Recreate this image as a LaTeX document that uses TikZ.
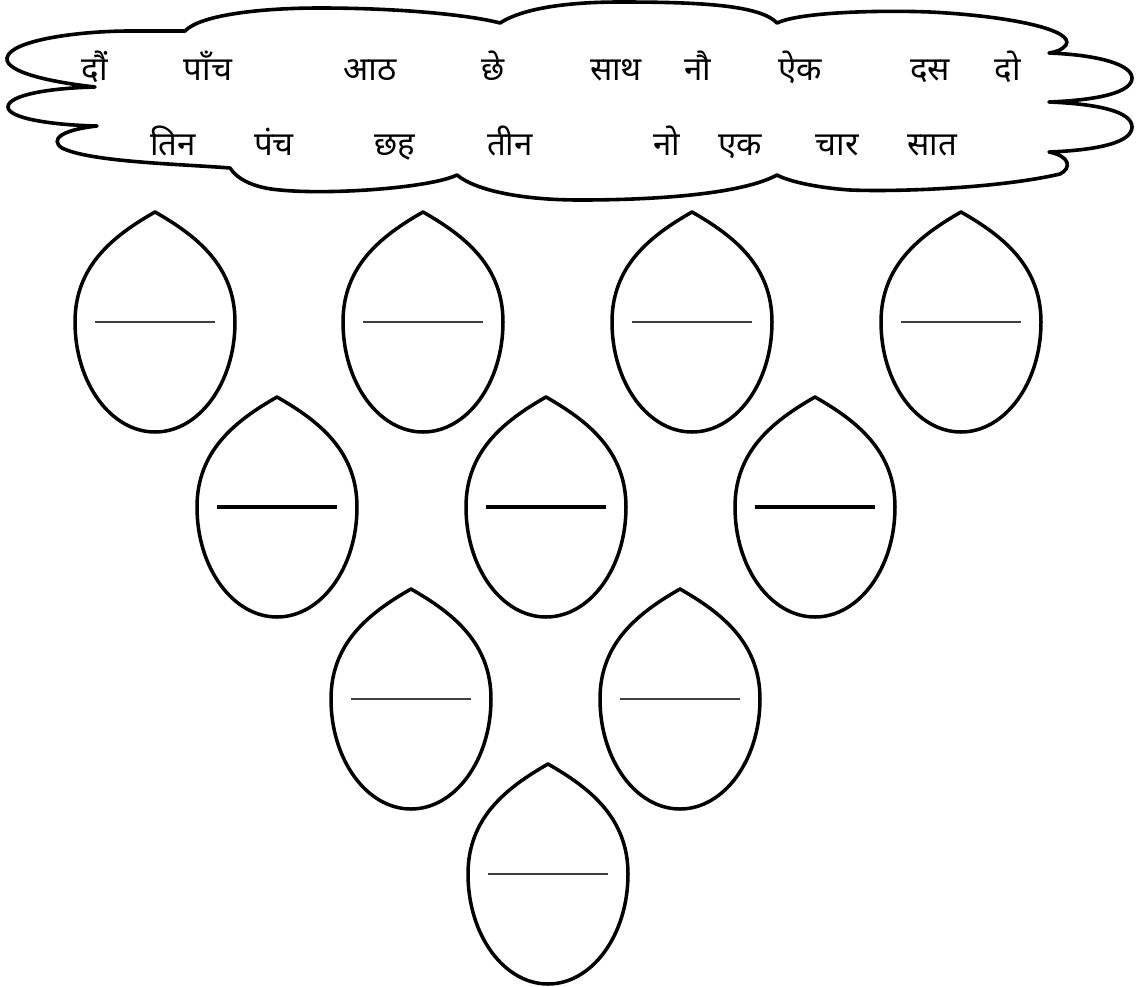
\documentclass[tikz,border=0pt]{standalone}
\usepackage{fontspec}
\newfontfamily\devfont[Script=Devanagari]{Noto Sans}
\begin{document}
\begin{tikzpicture}[x=1pt,y=-1pt,
  word/.style={font=\devfont\fontsize{33}{36}\selectfont, inner sep=0pt, anchor=base},
  outline/.style={line width=3.5pt, black, line join=round},
  cloudline/.style={line width=3.6pt, black, line join=round},
  blankthin/.style={line width=2.8pt, black!75},
  blankthick/.style={line width=4pt, black},
  dropshape/.pic={
    \draw[outline] (0,-110) .. controls (42,-86) and (80,-56) .. (80,0)
      .. controls (80,61) and (44,110) .. (0,110)
      .. controls (-44,110) and (-80,61) .. (-80,0)
      .. controls (-80,-56) and (-42,-86) .. cycle;
    \draw[#1] (-60,0) -- (60,0);
  }]
\fill[white] (0,0) rectangle (1136,986);
\useasboundingbox (0,0) rectangle (1136,986);

% cloud
\draw[cloudline] (185,31)
  .. controls (200,15) and (260,8) .. (320,8)
  .. controls (400,8) and (470,15) .. (500,23)
  .. controls (520,10) and (560,2) .. (620,2)
  .. controls (700,2) and (760,5) .. (777,23)
  .. controls (800,12) and (880,10) .. (930,12)
  .. controls (1010,16) and (1075,30) .. (1066,45)
  .. controls (1062,50) and (1056,52) .. (1049,53)
  .. controls (1100,55) and (1132,65) .. (1132,78)
  .. controls (1132,92) and (1100,100) .. (1049,102)
  .. controls (1100,104) and (1132,112) .. (1132,127)
  .. controls (1132,142) and (1100,150) .. (1049,152)
  .. controls (1070,156) and (1072,168) .. (1060,174)
  .. controls (1000,188) and (900,192) .. (850,190)
  .. controls (820,188) and (790,182) .. (777,175)
  .. controls (740,195) and (650,200) .. (580,200)
  .. controls (520,200) and (475,190) .. (457,175)
  .. controls (430,188) and (330,195) .. (280,190)
  .. controls (255,188) and (238,180) .. (230,168)
  .. controls (180,164) and (90,162) .. (62,148)
  .. controls (50,140) and (60,130) .. (97,126)
  .. controls (50,125) and (8,118) .. (8,107)
  .. controls (8,95) and (50,88) .. (95,87)
  .. controls (50,82) and (5,72) .. (7,58)
  .. controls (10,40) and (80,31) .. (130,31)
  .. controls (160,31) and (175,31) .. cycle;

% words, row 1
\node[word] (a1) at (95,80) {दौं};
\node[word] (a2) at (208,80) {पाँच};
\node[word] (a3) at (370,80) {आठ};
\node[word] (a4) at (493,80) {छे};
\node[word] (a5) at (616,80) {साथ};
\node[word] (a6) at (698,80) {नौ};
\node[word] (a7) at (800,80) {ऐक};
\node[word] (a8) at (930,80) {दस};
\node[word] (a9) at (1008,80) {दो};
% words, row 2
\node[word] (b1) at (173,155) {तिन};
\node[word] (b2) at (274,155) {पंच};
\node[word] (b3) at (395,155) {छह};
\node[word] (b4) at (510,155) {तीन};
\node[word] (b5) at (667,155) {नो};
\node[word] (b6) at (740,155) {एक};
\node[word] (b7) at (837,155) {चार};
\node[word] (b8) at (932,155) {सात};

% drops
\pic at (155,322) {dropshape=blankthin};
\pic at (423,322) {dropshape=blankthin};
\pic at (692,322) {dropshape=blankthin};
\pic at (961,322) {dropshape=blankthin};
\pic at (277,507) {dropshape=blankthick};
\pic at (546,507) {dropshape=blankthick};
\pic at (815,507) {dropshape=blankthick};
\pic at (411,699) {dropshape=blankthin};
\pic at (680,699) {dropshape=blankthin};
\pic at (548,874) {dropshape=blankthin};
\end{tikzpicture}
\end{document}
